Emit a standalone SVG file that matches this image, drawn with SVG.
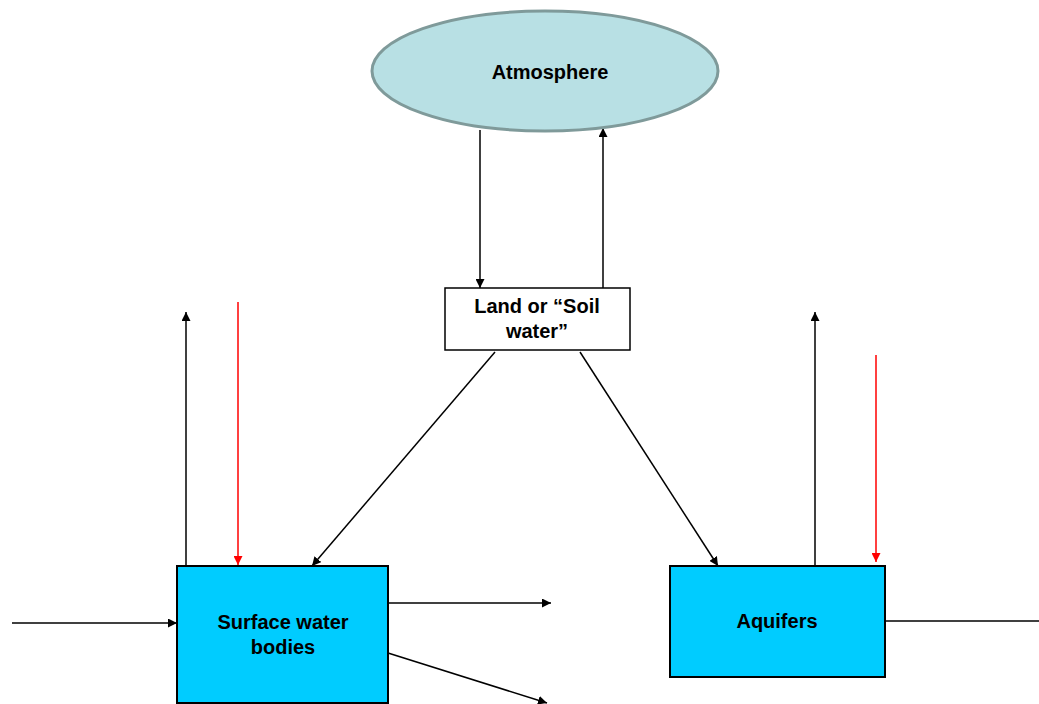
<svg xmlns="http://www.w3.org/2000/svg" width="1039" height="704" viewBox="0 0 1039 704">
<style>
.lbl{font-family:"Liberation Sans",Arial,sans-serif;font-weight:bold;font-size:20px;fill:#000;text-anchor:middle}
.c{stroke:#000;stroke-width:1.5;fill:none}
.r{stroke:#ff0000;stroke-width:1.5;fill:none}
.box{fill:#00ccff;stroke:#000;stroke-width:2}
</style>
<defs>
<marker id="ab" viewBox="0 0 10 10" refX="10" refY="5" markerWidth="9" markerHeight="9" markerUnits="userSpaceOnUse" orient="auto"><path d="M0,0 L10,5 L0,10 z" fill="#000"/></marker>
<marker id="ar" viewBox="0 0 10 10" refX="10" refY="5" markerWidth="9" markerHeight="9" markerUnits="userSpaceOnUse" orient="auto"><path d="M0,0 L10,5 L0,10 z" fill="#ff0000"/></marker>
</defs>
<rect width="1039" height="704" fill="#fff"/>
<g id="connectors">
<line class="c" x1="480" y1="130" x2="480" y2="288" marker-end="url(#ab)"/>
<line class="c" x1="603" y1="288" x2="603" y2="128" marker-end="url(#ab)"/>
<line class="c" x1="186" y1="566" x2="186" y2="312" marker-end="url(#ab)"/>
<line class="r" x1="238" y1="302" x2="238" y2="565" marker-end="url(#ar)"/>
<line class="c" x1="495" y1="352" x2="312" y2="566" marker-end="url(#ab)"/>
<line class="c" x1="388" y1="603" x2="551" y2="603" marker-end="url(#ab)"/>
<line class="c" x1="388" y1="653" x2="547" y2="703" marker-end="url(#ab)"/>
<line class="c" x1="12" y1="623" x2="177" y2="623" marker-end="url(#ab)"/>
<line class="c" x1="815" y1="566" x2="815" y2="312" marker-end="url(#ab)"/>
<line class="r" x1="876" y1="355" x2="876" y2="562" marker-end="url(#ar)"/>
<line class="c" x1="580" y1="352" x2="718" y2="566" marker-end="url(#ab)"/>
<line class="c" x1="885" y1="621" x2="1039" y2="621"/>
</g>
<g id="atmosphere">
<ellipse cx="545" cy="71" rx="173" ry="60" fill="#b8e0e4" stroke="#7f9a9a" stroke-width="3"/>
<text class="lbl" x="550" y="79">Atmosphere</text>
</g>
<g id="land">
<rect x="445" y="288" width="185" height="62" fill="#fff" stroke="#000" stroke-width="1.5"/>
<text class="lbl" x="537" y="313">Land or “Soil</text>
<text class="lbl" x="537" y="338">water”</text>
</g>
<g id="surface">
<rect class="box" x="177" y="566" width="211" height="137"/>
<text class="lbl" x="283" y="629">Surface water</text>
<text class="lbl" x="283" y="654">bodies</text>
</g>
<g id="aquifers">
<rect class="box" x="670" y="566" width="215" height="111"/>
<text class="lbl" x="777" y="628">Aquifers</text>
</g>
</svg>
